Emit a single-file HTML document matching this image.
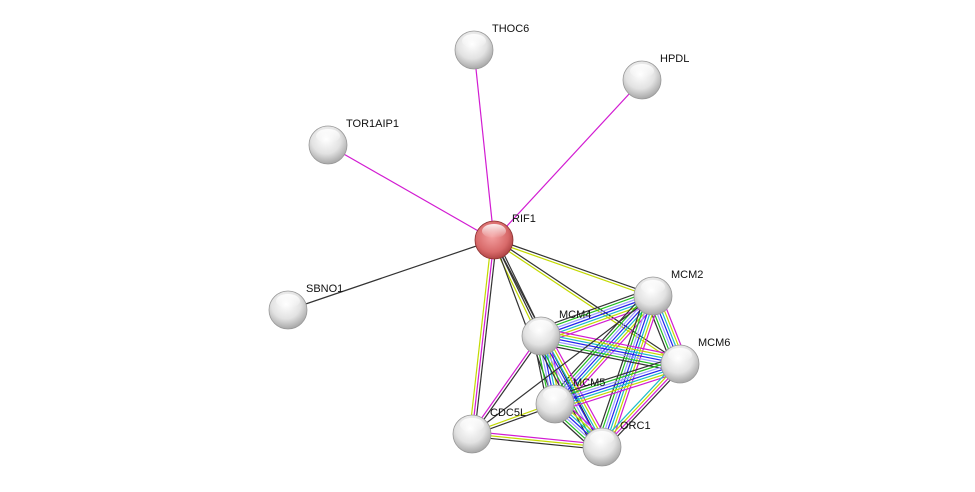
<!DOCTYPE html><html><head><style>body{margin:0;background:#fff}svg{display:block}text{font-family:"Liberation Sans",sans-serif;font-size:11px;fill:#111}</style></head><body>
<svg id="s" width="975" height="492" xmlns="http://www.w3.org/2000/svg">
<defs>
<radialGradient id="g" cx="0.45" cy="0.35" r="0.7"><stop offset="0" stop-color="#fff"/><stop offset="0.55" stop-color="#e2e2e2"/><stop offset="1" stop-color="#9c9c9c"/></radialGradient>
<radialGradient id="r" cx="0.45" cy="0.4" r="0.7"><stop offset="0" stop-color="#f4a0a0"/><stop offset="0.6" stop-color="#d86a6a"/><stop offset="1" stop-color="#9a3030"/></radialGradient>
<linearGradient id="h" x1="0" y1="0" x2="0" y2="1"><stop offset="0" stop-color="#fff" stop-opacity="0.9"/><stop offset="1" stop-color="#fff" stop-opacity="0"/></linearGradient>
</defs>
<g id="e"></g><g id="n"></g>
</svg>
<script>
var N={THOC6:[474,50],HPDL:[642,80],TOR1AIP1:[328,145],RIF1:[494,240],SBNO1:[288,310],MCM2:[653,296],MCM4:[541,336],MCM6:[680,364],MCM5:[555,404],CDC5L:[472,434],ORC1:[602,447]};
var K='#333',M='#d21cd2',Y='#c3d900',C='#19bcc8',B='#2424ee',L='#9a9aff',G='#22c022';
var full=[M,Y,C,B,L,G,K];
var E=[['RIF1','THOC6',[M]],['RIF1','HPDL',[M]],['RIF1','TOR1AIP1',[M]],['RIF1','SBNO1',[K]],
['RIF1','MCM2',[K,Y]],['RIF1','MCM6',[K,Y]],['RIF1','MCM4',[K,K,Y]],['RIF1','MCM5',[K]],['RIF1','CDC5L',[K,M,Y]],['RIF1','ORC1',[K]],
['MCM2','MCM4',full],['MCM2','MCM6',full],['MCM2','MCM5',full],['MCM2','ORC1',full],['MCM4','MCM6',full],['MCM4','MCM5',full],['MCM4','ORC1',full],['MCM6','MCM5',full],['MCM6','ORC1',[K,M,Y,C]],['MCM5','ORC1',full],
['CDC5L','MCM4',[M,K]],['CDC5L','MCM5',[Y,K]],['CDC5L','ORC1',[M,Y,K]],['CDC5L','MCM2',[K]]];
var s='';
E.forEach(function(e){var a=N[e[0]],b=N[e[1]],dx=b[0]-a[0],dy=b[1]-a[1],l=Math.hypot(dx,dy),px=-dy/l,py=dx/l,n=e[2].length;
e[2].forEach(function(c,i){var o=(i-(n-1)/2)*2.6;s+='<line x1="'+(a[0]+px*o)+'" y1="'+(a[1]+py*o)+'" x2="'+(b[0]+px*o)+'" y2="'+(b[1]+py*o)+'" stroke="'+c+'" stroke-width="1.2"/>';});});
document.getElementById('e').innerHTML=s;
var t='';
for(var k in N){var p=N[k];t+='<circle cx="'+p[0]+'" cy="'+p[1]+'" r="19" fill="url(#'+(k=='RIF1'?'r':'g')+')" stroke="'+(k=='RIF1'?'#8a3030':'#999')+'" stroke-width="0.8"/><ellipse cx="'+p[0]+'" cy="'+(p[1]-9)+'" rx="12" ry="7" fill="url(#h)"/><text x="'+(p[0]+18)+'" y="'+(p[1]-18)+'">'+k+'</text>';}
document.getElementById('n').innerHTML=t;
</script></body></html>
